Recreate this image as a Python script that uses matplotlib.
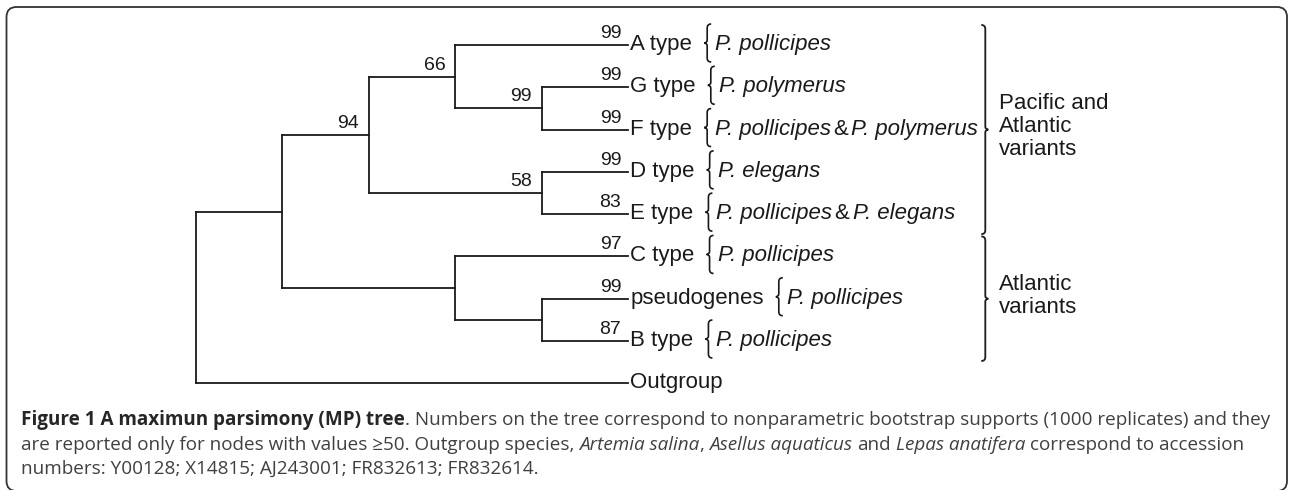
import matplotlib
matplotlib.use("Agg")
import matplotlib.pyplot as plt
from matplotlib.patches import PathPatch
from matplotlib.path import Path

W, H = 1290, 490

# leaves, top to bottom
leaf_names = ["A type", "G type", "F type", "D type", "E type",
              "C type", "pseudogenes", "B type", "Outgroup"]
leaf_support = ["99", "99", "99", "99", "83", "97", "99", "87", ""]
leaf_species = [["P. pollicipes"], ["P. polymerus"], ["P. pollicipes", "P. polymerus"],
                ["P. elegans"], ["P. pollicipes", "P. elegans"], ["P. pollicipes"],
                ["P. pollicipes"], ["P. pollicipes"], []]
leaf_depth = 5

# internal nodes
node_children = {
    "root": ["ingroup", "Outgroup"],
    "ingroup": ["n94", "atlantic"],
    "n94": ["n66", "n58"],
    "n66": ["A type", "n99"],
    "n99": ["G type", "F type"],
    "n58": ["D type", "E type"],
    "atlantic": ["C type", "n_pb"],
    "n_pb": ["pseudogenes", "B type"],
}
node_depth = {"root": 0, "ingroup": 1, "n94": 2, "n66": 3, "n99": 4,
              "n58": 4, "atlantic": 3, "n_pb": 4}
node_support = {"n94": "94", "n66": "66", "n99": "99", "n58": "58"}

group_labels = ["Pacific and\nAtlantic\nvariants", "Atlantic\nvariants"]
group_members = [["A type", "G type", "F type", "D type", "E type"],
                 ["C type", "pseudogenes", "B type"]]

caption_lines = [
    [("Figure 1 A maximun parsimony (MP) tree", "bold", False),
     (". Numbers on the tree correspond to nonparametric bootstrap supports "
      "(1000 replicates) and they", "normal", False)],
    [("are reported only for nodes with values \u226550. Outgroup species,", "normal", False),
     ("Artemia salina", "italic", True), (",", "normal", False),
     ("Asellus aquaticus", "italic", True), ("and", "normal", True),
     ("Lepas anatifera", "italic", True), ("correspond to accession", "normal", True)],
    [("numbers: Y00128; X14815; AJ243001; FR832613; FR832614.", "normal", False)],
]

LABEL_FONT = ["Liberation Sans", "DejaVu Sans"]
CAP_FONT = ["Open Sans", "DejaVu Sans"]
INK = "#1a1a1a"
line_kw = dict(color=INK, lw=1.3, solid_capstyle="projecting", clip_on=False)

fig = plt.figure(figsize=(W / 100, H / 100), dpi=100)
ov = fig.add_axes([0, 0, 1, 1])
ov.set_xlim(0, W)
ov.set_ylim(H, 0)
ov.axis("off")

tree_left, tree_right, tree_top, tree_bottom = 195.7, 628.3, 45.0, 383.3
ax = fig.add_axes([tree_left / W, 1 - tree_bottom / H,
                   (tree_right - tree_left) / W, (tree_bottom - tree_top) / H])
ax.set_xlim(0, leaf_depth)
ax.set_ylim(len(leaf_names) - 1, 0)
ax.axis("off")


def node_y(name):
    if name in node_children:
        ys = [node_y(c) for c in node_children[name]]
        return (min(ys) + max(ys)) / 2
    return leaf_names.index(name)


def depth_of(name):
    return node_depth.get(name, leaf_depth)


# tree branches and supports
for name, kids in node_children.items():
    x0 = node_depth[name]
    ys = [node_y(k) for k in kids]
    ax.plot([x0, x0], [min(ys), max(ys)], **line_kw)
    for k, yk in zip(kids, ys):
        ax.plot([x0, depth_of(k)], [yk, yk], **line_kw)
        if k in node_support:
            sup, dx = node_support[k], -10
        elif k in leaf_names:
            sup, dx = leaf_support[leaf_names.index(k)], -7
        else:
            sup = ""
        if sup:
            ax.annotate(sup, xy=(depth_of(k), yk), xytext=(dx, 3),
                        textcoords="offset pixels", ha="right", va="bottom",
                        fontsize=14, family=LABEL_FONT, color=INK)

renderer = fig.canvas.get_renderer()


def to_px(x, y):
    d = ax.transData.transform((x, y))
    return d[0], H - d[1]


def left_brace(xt, yc, half):
    # "{" with a small tick pointing left at yc
    xv = xt + 3
    verts = [(xv + 4, yc - half), (xv, yc - half), (xv, yc - half + 4),
             (xv, yc - 3), (xv, yc), (xt, yc), (xv, yc), (xv, yc + 3),
             (xv, yc + half - 4), (xv, yc + half), (xv + 4, yc + half)]
    codes = [Path.MOVETO, Path.CURVE3, Path.CURVE3, Path.LINETO,
             Path.CURVE3, Path.CURVE3, Path.CURVE3, Path.CURVE3,
             Path.LINETO, Path.CURVE3, Path.CURVE3]
    ov.add_patch(PathPatch(Path(verts, codes), fill=False, ec=INK, lw=1.2))


def right_brace(xv, y0, y1, yc):
    verts = [(xv - 4, y0), (xv, y0), (xv, y0 + 4), (xv, yc - 3), (xv, yc),
             (xv + 3, yc), (xv, yc), (xv, yc + 3), (xv, y1 - 4), (xv, y1), (xv - 4, y1)]
    codes = [Path.MOVETO, Path.CURVE3, Path.CURVE3, Path.LINETO,
             Path.CURVE3, Path.CURVE3, Path.CURVE3, Path.CURVE3,
             Path.LINETO, Path.CURVE3, Path.CURVE3]
    ov.add_patch(PathPatch(Path(verts, codes), fill=False, ec=INK, lw=1.3))


# leaf labels, small braces and species
species_end = 0
leaf_px = {}
for i, name in enumerate(leaf_names):
    t = ax.annotate(name, xy=(leaf_depth, i), xytext=(2, -5), textcoords="offset pixels",
                    ha="left", va="baseline", fontsize=16, family=LABEL_FONT, color=INK)
    _, ypx = to_px(leaf_depth, i)
    leaf_px[name] = ypx
    if not leaf_species[i]:
        continue
    x_tick = t.get_window_extent(renderer).x1 + 12
    left_brace(x_tick, ypx - 2, 19)
    x = x_tick + 11
    for j, sp in enumerate(leaf_species[i]):
        if j > 0:
            amp = ov.text(x + 2, ypx + 5, "&", ha="left", va="baseline", fontsize=16,
                          family=LABEL_FONT, color=INK)
            x = amp.get_window_extent(renderer).x1 + 3.5
        s = ov.text(x, ypx + 5, sp, ha="left", va="baseline", fontsize=16,
                    style="italic", family=LABEL_FONT, color=INK)
        x = s.get_window_extent(renderer).x1
    species_end = max(species_end, x)

# group brackets
x_br = species_end + 7
for label, members in zip(group_labels, group_members):
    ys = [leaf_px[m] for m in members]
    y0, y1 = min(ys) - 20, max(ys) + 20
    yc = (y0 + y1) / 2
    right_brace(x_br, y0, y1, yc)
    ov.text(x_br + 14, yc - 3, label, ha="left", va="center", ma="left", fontsize=16,
            family=LABEL_FONT, color=INK, linespacing=1.15)


# caption
def draw_line(segments, x0, y, size):
    texts = []
    x = x0
    for txt, kind, space in segments:
        kw = dict(fontsize=size, family=CAP_FONT, ha="left", va="baseline")
        if kind == "bold":
            kw.update(weight="bold", color="#262626")
        else:
            kw.update(color="#404040", style="italic" if kind == "italic" else "normal")
        if space:
            a = ov.text(0, -100, "n n", **kw)
            b = ov.text(0, -100, "nn", **kw)
            x += a.get_window_extent(renderer).width - b.get_window_extent(renderer).width
            a.remove()
            b.remove()
        t = ov.text(x, y, txt, **kw)
        texts.append(t)
        x = t.get_window_extent(renderer).x1
    return texts, x


cap_x0, cap_x1 = 21, 1274
cap_size = 12.0
for _ in range(3):
    probe, x_end = draw_line(caption_lines[0], cap_x0, -100, cap_size)
    for t in probe:
        t.remove()
    cap_size *= (cap_x1 - cap_x0) / (x_end - cap_x0)
for line, yb in zip(caption_lines, [425, 450, 474]):
    draw_line(line, cap_x0, yb, cap_size)

# frame: rounded sides and top, the bottom edge falls just below the picture
fl, ft, fr, fb, r = 6.5, 7, W - 3, H + 1, 10
frame = Path([(fl + r, fb), (fl, fb), (fl, fb - r), (fl, ft + r), (fl, ft), (fl + r, ft),
              (fr - r, ft), (fr, ft), (fr, ft + r), (fr, fb - r), (fr, fb), (fr - r, fb)],
             [Path.MOVETO, Path.CURVE3, Path.CURVE3, Path.LINETO, Path.CURVE3, Path.CURVE3,
              Path.LINETO, Path.CURVE3, Path.CURVE3, Path.LINETO, Path.CURVE3, Path.CURVE3])
ov.add_patch(PathPatch(frame, fill=False, ec="#333333", lw=1.3))

fig.savefig("out.png", dpi=100)
